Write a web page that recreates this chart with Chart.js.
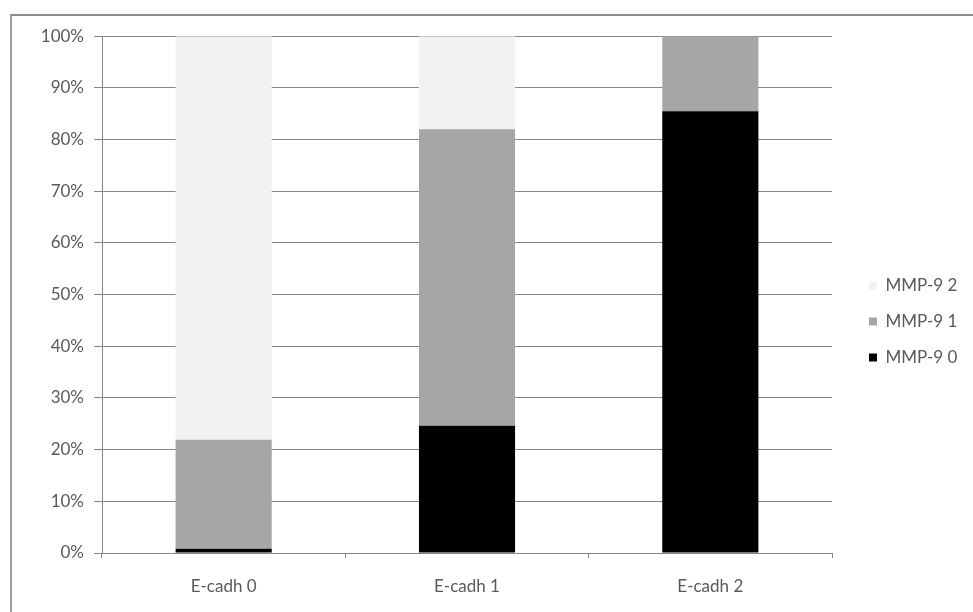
<!DOCTYPE html>
<html>
<head>
<meta charset="utf-8">
<script src="https://cdn.jsdelivr.net/npm/chart.js@4"></script>
<style>
  body { margin: 0; background: #fff; }
  #frame {
    position: absolute; left: 10px; top: 14px;
    width: 961px; height: 596px;
    border-left: 2px solid #a0a0a0; border-top: 2px solid #8c8c8c;
  }
</style>
</head>
<body>
<div id="frame"><canvas id="myChart" width="961" height="596"></canvas></div>
<script>
var categories = ["E-cadh 0", "E-cadh 1", "E-cadh 2"];
var mmp0 = [0.8, 24.6, 85.5];
var mmp1 = [21.1, 57.4, 14.5];
var mmp2 = [78.1, 18.0, 0];
var seriesNames = ["MMP-9 0", "MMP-9 1", "MMP-9 2"];
var yTicks = [0, 10, 20, 30, 40, 50, 60, 70, 80, 90, 100];

var txt = "#595959";
var font = { family: "Lato, 'Liberation Sans', sans-serif", size: 17 };

// make the legend column a fixed width so the plot ends where it should
var legendWidth = {
  id: "legendWidth",
  beforeLayout(chart) {
    var lg = chart.legend;
    if (lg && !lg._fixed) {
      var f = lg.fit;
      lg.fit = function () { f.call(this); this.width = 141; };
      lg._fixed = true;
    }
  },
  afterLayout(chart) {
    // nudge the legend items a little to the right
    chart.legend.left += 18;
  }
};

new Chart("myChart", {
  type: "bar",
  data: {
    labels: categories,
    datasets: [
      { label: seriesNames[0], data: mmp0, backgroundColor: "#000000" },
      { label: seriesNames[1], data: mmp1, backgroundColor: "#a6a6a6" },
      { label: seriesNames[2], data: mmp2, backgroundColor: "#f2f2f2" }
    ]
  },
  options: {
    responsive: false,
    animation: false,
    categoryPercentage: 0.79,
    barPercentage: 0.5,
    layout: { padding: { top: 15, left: 0, right: 0, bottom: 0 } },
    plugins: {
      legend: {
        position: "right",
        reverse: true,
        labels: { color: txt, font: font, boxWidth: 8, boxHeight: 8, padding: 19 }
      },
      tooltip: { enabled: false }
    },
    scales: {
      x: {
        stacked: true,
        grid: { display: true, drawOnChartArea: false, offset: true, tickLength: 5, color: "#868686" },
        border: { color: "#868686" },
        ticks: { color: txt, font: font, padding: 18 },
        afterFit(s) { s.height = 59; }
      },
      y: {
        stacked: true,
        min: 0, max: 100,
        afterBuildTicks(s) { s.ticks = yTicks.map(v => ({ value: v })); },
        grid: { color: "#868686", tickLength: 8 },
        border: { color: "#868686" },
        ticks: { color: txt, font: font, padding: 10, callback: v => v + "%" },
        afterFit(s) { s.width = 90; }
      }
    }
  },
  plugins: [legendWidth]
});
</script>
</body>
</html>
